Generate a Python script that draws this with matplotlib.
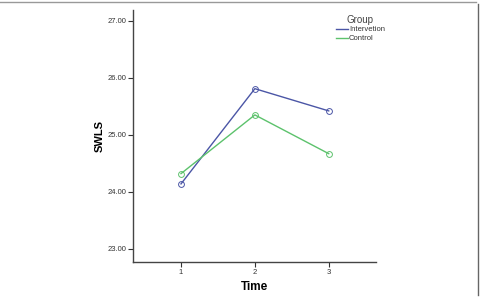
import matplotlib
matplotlib.use("Agg")
import matplotlib.pyplot as plt
from matplotlib.lines import Line2D

plt.rcParams["font.family"] = ["Liberation Sans", "DejaVu Sans"]

times = [1, 2, 3]
intervention = [24.14, 25.81, 25.42]
control = [24.32, 25.35, 24.67]
y_ticks = [23.0, 24.0, 25.0, 26.0, 27.0]

W, H = 481, 297
fig = plt.figure(figsize=(W / 100, H / 100), dpi=100)
ax = fig.add_axes([133 / W, (H - 262) / H, (376 - 133) / W, (262 - 10) / H])

blue = "#4b56a6"
green = "#5cc26c"
ax.plot(times, intervention, color=blue, linewidth=1.0, marker="o", markersize=4.2,
        markerfacecolor="none", markeredgewidth=0.7, label="Intervetion")
ax.plot(times, control, color=green, linewidth=1.0, marker="o", markersize=4.2,
        markerfacecolor="none", markeredgewidth=0.7, label="Control")

ax.set_xlim(0.35, 3.64)
ax.set_ylim(22.77, 27.19)
ax.set_xticks(times)
ax.set_xticklabels([str(t) for t in times])
ax.set_yticks(y_ticks)
ax.set_yticklabels([f"{v:.2f}" for v in y_ticks])
ax.tick_params(axis="both", labelsize=5.5, length=3.5, width=0.8, color="#333333",
               labelcolor="#333333", pad=1.5)

for side in ["top", "right"]:
    ax.spines[side].set_visible(False)
for side in ["left", "bottom"]:
    ax.spines[side].set_linewidth(1.0)
    ax.spines[side].set_color("#444444")

ax.set_ylabel("SWLS", fontsize=8, fontweight="bold", labelpad=2)
ax.set_xlabel("Time", fontsize=8.5, fontweight="bold", labelpad=4)

leg = ax.legend(title="Group", loc="upper left", bbox_to_anchor=(0.815, 1.0),
                frameon=False, fontsize=5.5, title_fontsize=7, handlelength=1.6,
                handletextpad=0.15, labelspacing=0.2, borderaxespad=0.2)
leg.get_title().set_color("#444444")
for t in leg.get_texts():
    t.set_color("#333333")
for h in leg.legend_handles:
    h.set_marker("")

# page frame
fig.add_artist(Line2D([0, 476 / W], [1 - 1.5 / H, 1 - 1.5 / H], color="#999999", linewidth=1.0))
fig.add_artist(Line2D([478 / W, 478 / W], [1 - 4 / H, 2 / H], color="#666666", linewidth=1.0))

fig.savefig("out.png", dpi=100)
